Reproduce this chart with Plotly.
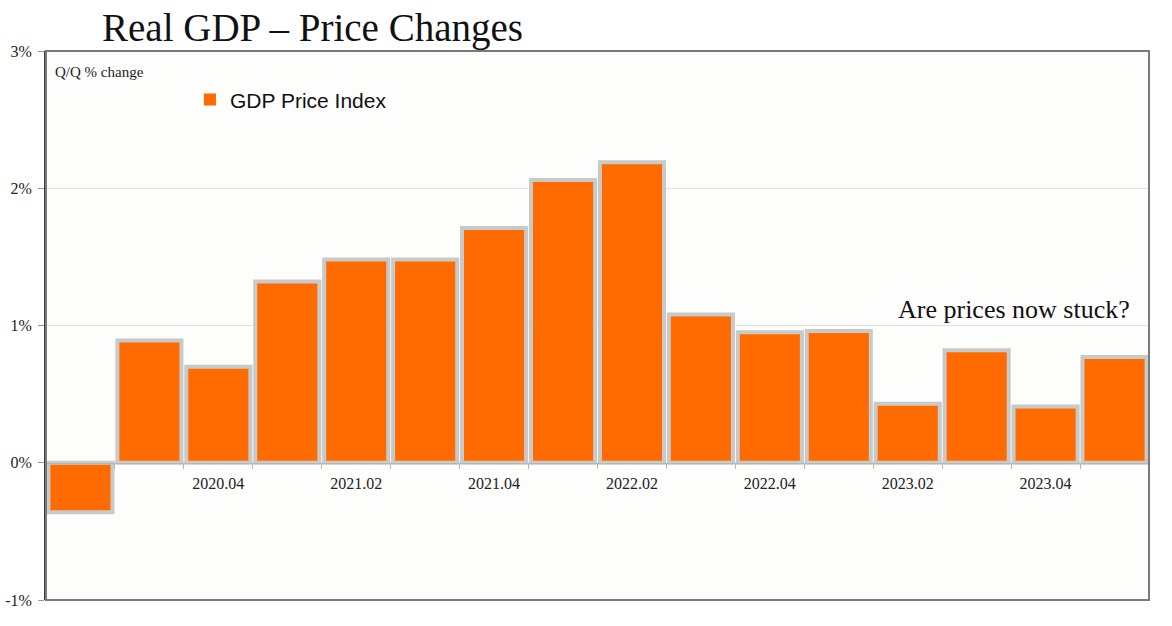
import plotly.graph_objects as go

quarters = ["2020.02", "2020.03", "2020.04", "2021.01", "2021.02", "2021.03",
            "2021.04", "2022.01", "2022.02", "2022.03", "2022.04", "2023.01",
            "2023.02", "2023.03", "2023.04", "2024.01"]
gdp_price = [-0.36, 0.89, 0.70, 1.32, 1.48, 1.48, 1.71, 2.06, 2.19, 1.08,
             0.95, 0.96, 0.43, 0.82, 0.41, 0.77]
shown_labels = ["2020.04", "2021.02", "2021.04", "2022.02", "2022.04",
                "2023.02", "2023.04"]
y_ticks = [-1, 0, 1, 2, 3]

xpos = list(range(len(quarters)))
tickvals = [quarters.index(q) for q in shown_labels]

SERIF = "Liberation Serif, Times New Roman, serif"
SANS = "Liberation Sans, Arial, sans-serif"
ORANGE = "#ff6b00"

fig = go.Figure()
fig.add_trace(go.Bar(
    x=xpos, y=gdp_price, name="GDP Price Index",
    marker=dict(color=ORANGE, line=dict(color="#c8caca", width=4)),
    showlegend=False,
))
# legend entry (plain orange square, as in the reference)
fig.add_trace(go.Bar(
    x=[None], y=[None], name="GDP Price Index",
    marker=dict(color=ORANGE, line=dict(width=0)),
    showlegend=True,
))

fig.update_layout(
    width=1172, height=626,
    margin=dict(l=46, r=23, t=51, b=26, autoexpand=False),
    paper_bgcolor="#ffffff",
    plot_bgcolor="#fdfdfc",
    bargap=0.07,
    barmode="overlay",
    showlegend=True,
    legend=dict(x=0.1305, y=0.911, xanchor="left", yanchor="middle",
                font=dict(family=SANS, size=21, color="#111111"),
                bgcolor="rgba(0,0,0,0)", borderwidth=0),
    xaxis=dict(
        range=[-0.5, len(quarters) - 0.5],
        tickmode="array", tickvals=tickvals, ticktext=shown_labels,
        ticks="", showgrid=False, zeroline=False,
        anchor="free", position=0.25, automargin=False,
        showline=True, linecolor="#b8b8b8", linewidth=1,
        tickfont=dict(family=SERIF, size=16, color="#222222"),
        ticklabelstandoff=6,
        minor=dict(tick0=0.5, dtick=1, ticks="outside", ticklen=5,
                   tickcolor="#b8b8b8", showgrid=False),
    ),
    yaxis=dict(
        range=[-1, 3], tickmode="array", tickvals=y_ticks,
        ticktext=[f"{v}%" for v in y_ticks], automargin=False,
        showgrid=True, gridcolor="#e2e2e2", gridwidth=1,
        zeroline=False,
        showline=True, linecolor="#3a3a3a", linewidth=2,
        ticks="outside", ticklen=6, tickcolor="#999999",
        tickfont=dict(family=SERIF, size=16, color="#222222"),
        ticklabelstandoff=3,
    ),
    shapes=[dict(type="rect", xref="paper", yref="paper", x0=0, x1=1, y0=0, y1=1,
                 line=dict(color="#7a7a7a", width=2), layer="above")],
    annotations=[
        dict(text="Real GDP – Price Changes", xref="paper", yref="paper",
             x=0.049, y=1.042, xanchor="left", yanchor="middle", showarrow=False,
             font=dict(family=SERIF, size=39, color="#111111")),
        dict(text="Q/Q % change", xref="paper", yref="paper",
             x=0.006, y=0.962, xanchor="left", yanchor="middle", showarrow=False,
             font=dict(family=SERIF, size=15, color="#222222")),
        dict(text="Are prices now stuck?", xref="paper", yref="paper",
             x=0.985, y=0.530, xanchor="right", yanchor="middle", showarrow=False,
             font=dict(family=SERIF, size=26, color="#111111")),
    ],
)

fig.write_html("out.html", config={"displayModeBar": False},
               post_script="document.body.style.margin='0';")
